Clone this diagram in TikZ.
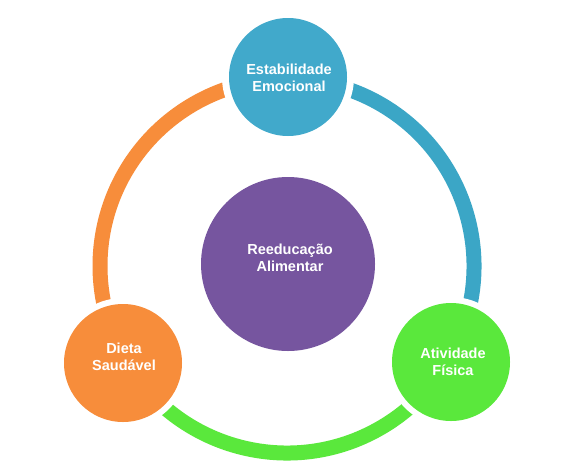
\documentclass[tikz,border=0pt]{standalone}
\usepackage{fontspec}
\setmainfont{Liberation Sans}
\usetikzlibrary{calc}
\definecolor{cblue}{HTML}{41A9CB}
\definecolor{rblue}{HTML}{3BA6C6}
\definecolor{corange}{HTML}{F78D3B}
\definecolor{cgreen}{HTML}{5AE83C}
\definecolor{cpurple}{HTML}{76559F}
\begin{document}
\begin{tikzpicture}[x=1pt,y=1pt,
  ring/.style={line width=15pt},
  bubble/.style={circle,inner sep=0pt,minimum size=118pt},
  label/.style={text=white,font=\fontsize{14.5}{16.5}\selectfont\bfseries,align=center}]
\useasboundingbox[fill=white] (0,0) rectangle (580,-474);
\coordinate (C) at (287,-266);
% ring segments
\draw[ring,corange] ($(C)+(90:187)$) arc[start angle=90,end angle=210,radius=187pt];
\draw[ring,rblue] ($(C)+(-30:187)$) arc[start angle=-30,end angle=90,radius=187pt];
\draw[ring,cgreen] ($(C)+(210:187)$) arc[start angle=210,end angle=330,radius=187pt];
% white halos
\fill[white] (288,-77) circle (66pt);
\fill[white] (123,-363) circle (65pt);
\fill[white] (451,-362) circle (65pt);
% circles
\node[bubble,fill=cblue] (T) at (288,-77) {};
\node[bubble,fill=corange] (L) at (123,-363) {};
\node[bubble,fill=cgreen] (R) at (451,-362) {};
\node[circle,inner sep=0pt,minimum size=174pt,fill=cpurple] (P) at (288,-264) {};
% labels
\node[label] (tT) at (289,-78) {Estabilidade\\Emocional};
\node[label] (tL) at (124,-357) {Dieta\\Saudável};
\node[label] (tR) at (453,-362) {Atividade\\Física};
\node[label] (tP) at (290,-258) {Reeducação\\Alimentar};
\end{tikzpicture}
\end{document}
